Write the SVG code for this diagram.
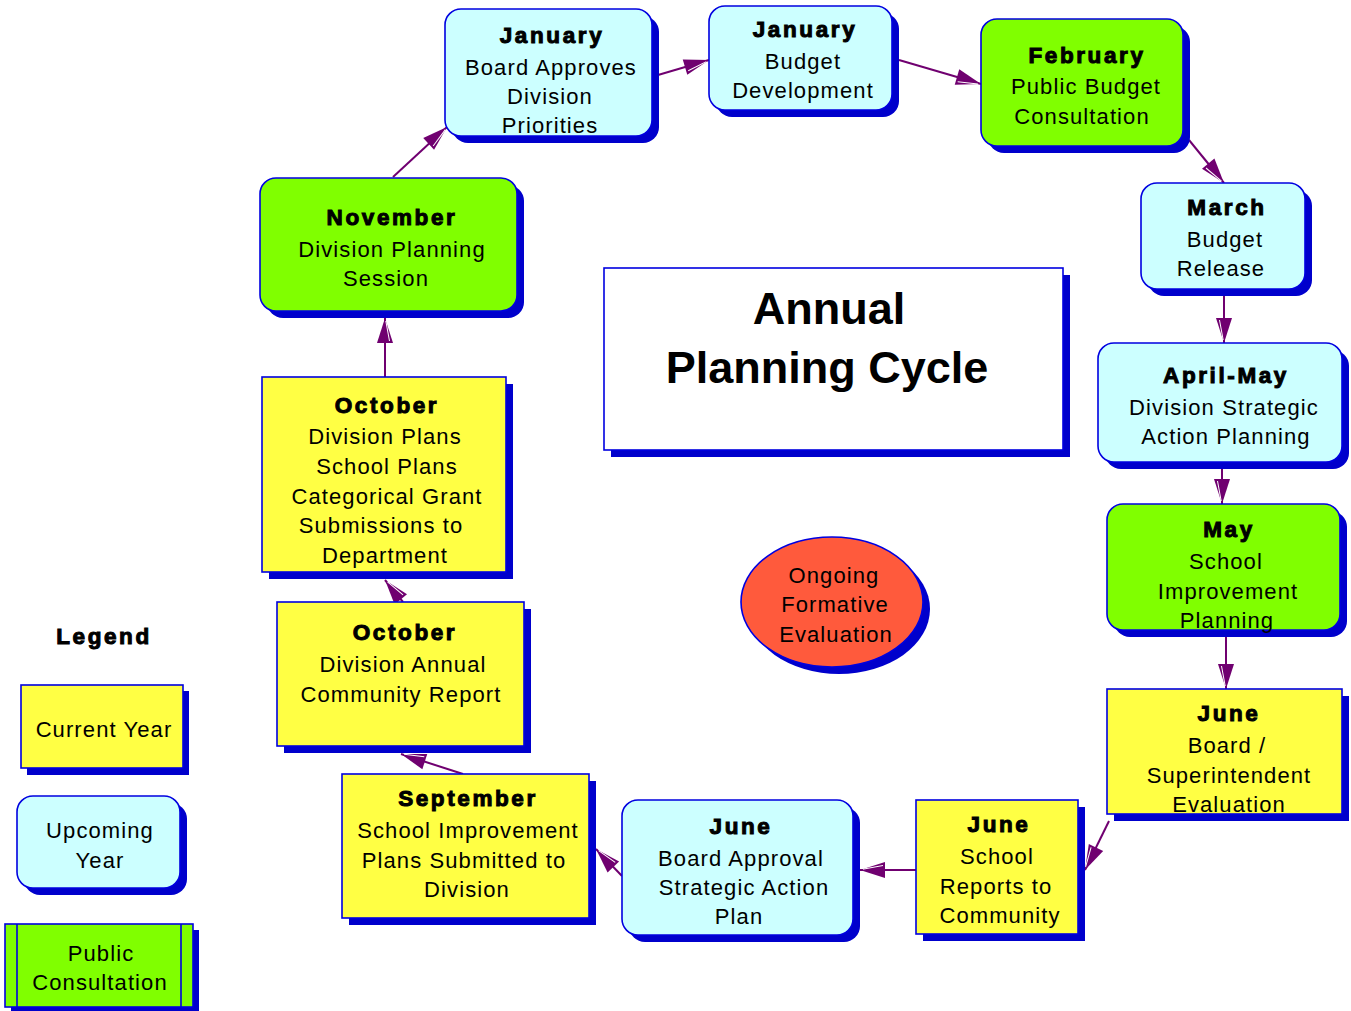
<svg xmlns="http://www.w3.org/2000/svg" width="1351" height="1011" viewBox="0 0 1351 1011">
<style>
.sh{fill:#0000CC;stroke:none}
.cy{fill:#CCFFFF;stroke:#0000E0;stroke-width:1.6}
.gr{fill:#80FF00;stroke:#0000E0;stroke-width:1.6}
.ye{fill:#FFFF44;stroke:#0000E0;stroke-width:1.6}
.wh{fill:#FFFFFF;stroke:#0000E0;stroke-width:1.6}
.or{fill:#FF5A3C;stroke:#0000E0;stroke-width:1.6}
text{font-family:"Liberation Sans",Arial,sans-serif;fill:#000;text-anchor:middle}
.t{font-size:22px;letter-spacing:1.1px}
.h{font-size:22.5px;font-weight:bold;letter-spacing:2.6px;stroke:#000;stroke-width:1}
.big{font-size:45px;font-weight:bold}
.c{fill:none;stroke:#700070;stroke-width:2;marker-end:url(#ah)}
</style>
<defs>
<marker id="ah" markerUnits="userSpaceOnUse" markerWidth="28" markerHeight="18" refX="25" refY="8" orient="auto" overflow="visible">
<path d="M0,0 L25,8 L0,16 z" fill="#700070"/>
<path d="M2,12.5 L22,8.8" stroke="#FFFFFF" stroke-width="1" fill="none"/>
</marker>
</defs>
<rect width="1351" height="1011" fill="#FFFFFF"/>

<g id="connectors">
<line class="c" x1="393" y1="177" x2="447" y2="127"/>
<line class="c" x1="658" y1="75" x2="709" y2="60"/>
<line class="c" x1="899" y1="60" x2="981" y2="84"/>
<line class="c" x1="1189" y1="140" x2="1224" y2="183"/>
<line class="c" x1="1224" y1="295" x2="1224" y2="343"/>
<line class="c" x1="1222" y1="468" x2="1222" y2="504"/>
<line class="c" x1="1226" y1="636" x2="1226" y2="689"/>
<line class="c" x1="1109" y1="821" x2="1085" y2="870"/>
<line class="c" x1="916" y1="870" x2="860" y2="870"/>
<line class="c" x1="622" y1="876" x2="596" y2="849"/>
<line class="c" x1="463" y1="774" x2="401" y2="754"/>
<line class="c" x1="403" y1="602" x2="385" y2="580"/>
<line class="c" x1="385" y1="377" x2="385" y2="318"/>
</g>

<g id="title">
<rect class="sh" x="611" y="275" width="459" height="182"/>
<rect class="wh" x="604" y="268" width="459" height="182"/>
<text class="big" x="829" y="324">Annual</text>
<text class="big" x="827" y="383">Planning Cycle</text>
</g>

<g id="jan-board">
<rect class="sh" x="452" y="16" width="207" height="127" rx="16"/>
<rect class="cy" x="445" y="9" width="207" height="127" rx="16"/>
<text class="h" x="552" y="43">January</text>
<text class="t" x="551" y="75">Board Approves</text>
<text class="t" x="550" y="104">Division</text>
<text class="t" x="550" y="133">Priorities</text>
</g>

<g id="jan-budget">
<rect class="sh" x="716" y="13" width="183" height="104" rx="16"/>
<rect class="cy" x="709" y="6" width="183" height="104" rx="16"/>
<text class="h" x="805" y="37">January</text>
<text class="t" x="803" y="69">Budget</text>
<text class="t" x="803" y="98">Development</text>
</g>

<g id="february">
<rect class="sh" x="988" y="26" width="202" height="127" rx="16"/>
<rect class="gr" x="981" y="19" width="202" height="127" rx="16"/>
<text class="h" x="1087" y="63">February</text>
<text class="t" x="1086" y="94">Public Budget</text>
<text class="t" x="1082" y="124">Consultation</text>
</g>

<g id="march">
<rect class="sh" x="1148" y="190" width="164" height="106" rx="16"/>
<rect class="cy" x="1141" y="183" width="164" height="106" rx="16"/>
<text class="h" x="1227" y="215">March</text>
<text class="t" x="1225" y="247">Budget</text>
<text class="t" x="1221" y="276">Release</text>
</g>

<g id="april-may">
<rect class="sh" x="1105" y="350" width="244" height="119" rx="16"/>
<rect class="cy" x="1098" y="343" width="244" height="119" rx="16"/>
<text class="h" x="1226" y="383">April-May</text>
<text class="t" x="1224" y="415">Division Strategic</text>
<text class="t" x="1226" y="444">Action Planning</text>
</g>

<g id="may">
<rect class="sh" x="1114" y="511" width="233" height="126" rx="16"/>
<rect class="gr" x="1107" y="504" width="233" height="126" rx="16"/>
<text class="h" x="1229" y="537">May</text>
<text class="t" x="1226" y="569">School</text>
<text class="t" x="1228" y="599">Improvement</text>
<text class="t" x="1227" y="628">Planning</text>
</g>

<g id="june-superintendent">
<rect class="sh" x="1114" y="696" width="235" height="125"/>
<rect class="ye" x="1107" y="689" width="235" height="125"/>
<text class="h" x="1229" y="721">June</text>
<text class="t" x="1227" y="753">Board /</text>
<text class="t" x="1229" y="783">Superintendent</text>
<text class="t" x="1229" y="812">Evaluation</text>
</g>

<g id="june-school-reports">
<rect class="sh" x="923" y="807" width="162" height="134"/>
<rect class="ye" x="916" y="800" width="162" height="134"/>
<text class="h" x="999" y="832">June</text>
<text class="t" x="997" y="864">School</text>
<text class="t" x="996" y="894">Reports to</text>
<text class="t" x="1000" y="923">Community</text>
</g>

<g id="june-board-approval">
<rect class="sh" x="629" y="807" width="231" height="135" rx="16"/>
<rect class="cy" x="622" y="800" width="231" height="135" rx="16"/>
<text class="h" x="741" y="834">June</text>
<text class="t" x="741" y="866">Board Approval</text>
<text class="t" x="744" y="895">Strategic Action</text>
<text class="t" x="739" y="924">Plan</text>
</g>

<g id="september">
<rect class="sh" x="349" y="781" width="247" height="144"/>
<rect class="ye" x="342" y="774" width="247" height="144"/>
<text class="h" x="468" y="806">September</text>
<text class="t" x="468" y="838">School Improvement</text>
<text class="t" x="464" y="868">Plans Submitted to</text>
<text class="t" x="467" y="897">Division</text>
</g>

<g id="october-report">
<rect class="sh" x="284" y="609" width="247" height="144"/>
<rect class="ye" x="277" y="602" width="247" height="144"/>
<text class="h" x="405" y="640">October</text>
<text class="t" x="403" y="672">Division Annual</text>
<text class="t" x="401" y="702">Community Report</text>
</g>

<g id="october-plans">
<rect class="sh" x="269" y="384" width="244" height="195"/>
<rect class="ye" x="262" y="377" width="244" height="195"/>
<text class="h" x="387" y="413">October</text>
<text class="t" x="385" y="444">Division Plans</text>
<text class="t" x="387" y="474">School Plans</text>
<text class="t" x="387" y="504">Categorical Grant</text>
<text class="t" x="381" y="533">Submissions to</text>
<text class="t" x="385" y="563">Department</text>
</g>

<g id="november">
<rect class="sh" x="267" y="185" width="257" height="133" rx="16"/>
<rect class="gr" x="260" y="178" width="257" height="133" rx="16"/>
<text class="h" x="392" y="225">November</text>
<text class="t" x="392" y="257">Division Planning</text>
<text class="t" x="386" y="286">Session</text>
</g>

<g id="ongoing">
<ellipse class="sh" cx="839" cy="609" rx="91" ry="65"/>
<ellipse class="or" cx="832" cy="602" rx="91" ry="65"/>
<text class="t" x="834" y="583">Ongoing</text>
<text class="t" x="835" y="612">Formative</text>
<text class="t" x="836" y="642">Evaluation</text>
</g>

<g id="legend">
<text class="h" x="104" y="644">Legend</text>
<rect class="sh" x="27" y="691" width="162" height="84"/>
<rect class="ye" x="21" y="685" width="162" height="83"/>
<text class="t" x="104" y="737">Current Year</text>
<rect class="sh" x="24" y="803" width="163" height="92" rx="16"/>
<rect class="cy" x="17" y="796" width="163" height="92" rx="16"/>
<text class="t" x="100" y="838">Upcoming</text>
<text class="t" x="100" y="868">Year</text>
<rect class="sh" x="11" y="930" width="188" height="83"/>
<rect class="gr" x="5" y="924" width="188" height="83"/>
<line x1="17" y1="924" x2="17" y2="1007" stroke="#0000E0" stroke-width="1.6"/>
<line x1="181" y1="924" x2="181" y2="1007" stroke="#0000E0" stroke-width="1.6"/>
<text class="t" x="101" y="961">Public</text>
<text class="t" x="100" y="990">Consultation</text>
</g>
</svg>
